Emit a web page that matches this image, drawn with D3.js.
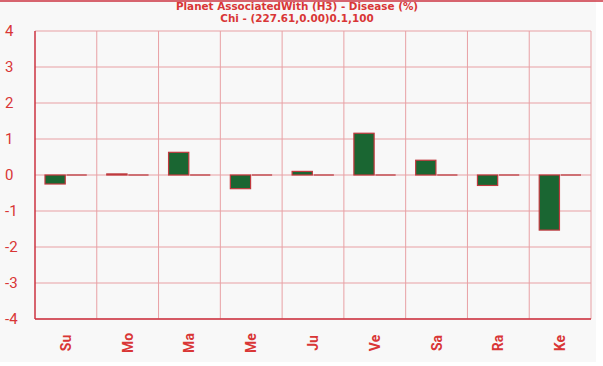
<!DOCTYPE html>
<html>
<head>
<meta charset="utf-8">
<script src="https://cdn.jsdelivr.net/npm/d3@7"></script>
<style>
  body { margin: 0; background: #ffffff; }
  svg { display: block; }
</style>
</head>
<body>
<div id="myChart"></div>
<script>
var planets = ['Su', 'Mo', 'Ma', 'Me', 'Ju', 'Ve', 'Sa', 'Ra', 'Ke'];
var diseaseValues = [-0.25, 0.03, 0.63, -0.38, 0.1, 1.16, 0.41, -0.29, -1.53]; // bar series
var secondValues = [0, 0, 0, 0, 0, 0, 0, 0, 0]; // flat second series
var yTicks = [4, 3, 2, 1, 0, -1, -2, -3, -4];
var titleLines = ['Planet AssociatedWith (H3) - Disease (%)', 'Chi - (227.61,0.00)0.1,100'];

var red = '#d93636';
var gridColor = '#e8a0a4';

var margin = {top: 31, right: 12, bottom: 47, left: 35},
    width = 603 - margin.left - margin.right,
    height = 366 - margin.top - margin.bottom;

var svg = d3.select('#myChart')
  .append('svg')
  .attr('width', 603)
  .attr('height', 366);

// gray panel
svg.append('rect')
  .attr('x', 0).attr('y', 0)
  .attr('width', 596).attr('height', 362)
  .attr('fill', '#f8f8f8');

// top red line
svg.append('line')
  .attr('x1', 0).attr('x2', 603)
  .attr('y1', 1).attr('y2', 1)
  .attr('stroke', '#cc3340').attr('stroke-width', 1.5);

// titles
svg.selectAll('text.title')
  .data(titleLines)
  .enter()
  .append('text')
  .attr('class', 'title')
  .attr('x', 297)
  .attr('y', function(d, i) { return 9.5 + i * 12; })
  .attr('text-anchor', 'middle')
  .style('font-family', '"DejaVu Sans", sans-serif')
  .style('font-weight', 'bold')
  .style('font-size', '10.4px')
  .style('fill', red)
  .text(function(d) { return d; });

var g = svg.append('g')
  .attr('transform', 'translate(' + margin.left + ',' + margin.top + ')');

var x = d3.scaleBand()
  .domain(planets)
  .range([0, width])
  .padding(0);

var x1 = d3.scaleBand()
  .domain(['a', 'b'])
  .range([10, x.bandwidth() - 10])
  .paddingInner(0.06);

var y = d3.scaleLinear()
  .domain([-4, 4])
  .range([height, 0]);

// horizontal grid
g.selectAll('line.hgrid')
  .data(yTicks)
  .enter()
  .append('line')
  .attr('class', 'hgrid')
  .attr('x1', 0).attr('x2', width)
  .attr('y1', function(d) { return y(d); })
  .attr('y2', function(d) { return y(d); })
  .attr('stroke', gridColor)
  .attr('stroke-width', 1);

// vertical grid
g.selectAll('line.vgrid')
  .data(planets)
  .enter()
  .append('line')
  .attr('class', 'vgrid')
  .attr('x1', function(d) { return x(d) + x.bandwidth(); })
  .attr('x2', function(d) { return x(d) + x.bandwidth(); })
  .attr('y1', 0).attr('y2', height)
  .attr('stroke', gridColor)
  .attr('stroke-width', 1);

// axis lines
g.append('line')
  .attr('x1', 0).attr('x2', 0).attr('y1', 0).attr('y2', height)
  .attr('stroke', '#cc3340').attr('stroke-width', 1.5);
g.append('line')
  .attr('x1', 0).attr('x2', width).attr('y1', height).attr('y2', height)
  .attr('stroke', '#cc3340').attr('stroke-width', 1.5);

// y labels
g.selectAll('text.ylab')
  .data(yTicks)
  .enter()
  .append('text')
  .attr('class', 'ylab')
  .attr('x', -30)
  .attr('y', function(d) { return y(d) + 5; })
  .style('font-family', 'Roboto, "Liberation Sans", sans-serif')
  .style('font-size', '15px')
  .style('fill', red)
  .text(function(d) { return d < 0 ? '-' + Math.abs(d) : d; });

// second series (flat, drawn as its outline at the value)
g.selectAll('line.second')
  .data(secondValues)
  .enter()
  .append('line')
  .attr('class', 'second')
  .attr('x1', function(d, i) { return x(planets[i]) + x1('b'); })
  .attr('x2', function(d, i) { return x(planets[i]) + x1('b') + x1.bandwidth(); })
  .attr('y1', function(d) { return y(d); })
  .attr('y2', function(d) { return y(d); })
  .attr('stroke', '#b8323a')
  .attr('stroke-width', 1.2);

// bars
g.selectAll('rect.bar')
  .data(diseaseValues)
  .enter()
  .append('rect')
  .attr('class', 'bar')
  .attr('x', function(d, i) { return x(planets[i]) + x1('a'); })
  .attr('y', function(d) { return y(Math.max(0, d)); })
  .attr('width', x1.bandwidth())
  .attr('height', function(d) { return Math.abs(y(d) - y(0)); })
  .attr('fill', '#1a6632')
  .attr('stroke', '#c0393e')
  .attr('stroke-width', 1.2);

// x labels, rotated
g.selectAll('text.xlab')
  .data(planets)
  .enter()
  .append('text')
  .attr('class', 'xlab')
  .attr('text-anchor', 'middle')
  .attr('transform', function(d) {
    return 'translate(' + (x(d) + x.bandwidth() / 2 + 5) + ',' + (height + 24) + ') rotate(-90)';
  })
  .style('font-family', 'Roboto, "Liberation Sans", sans-serif')
  .style('font-weight', 'bold')
  .style('font-size', '14px')
  .style('fill', red)
  .text(function(d) { return d; });
</script>
</body>
</html>
